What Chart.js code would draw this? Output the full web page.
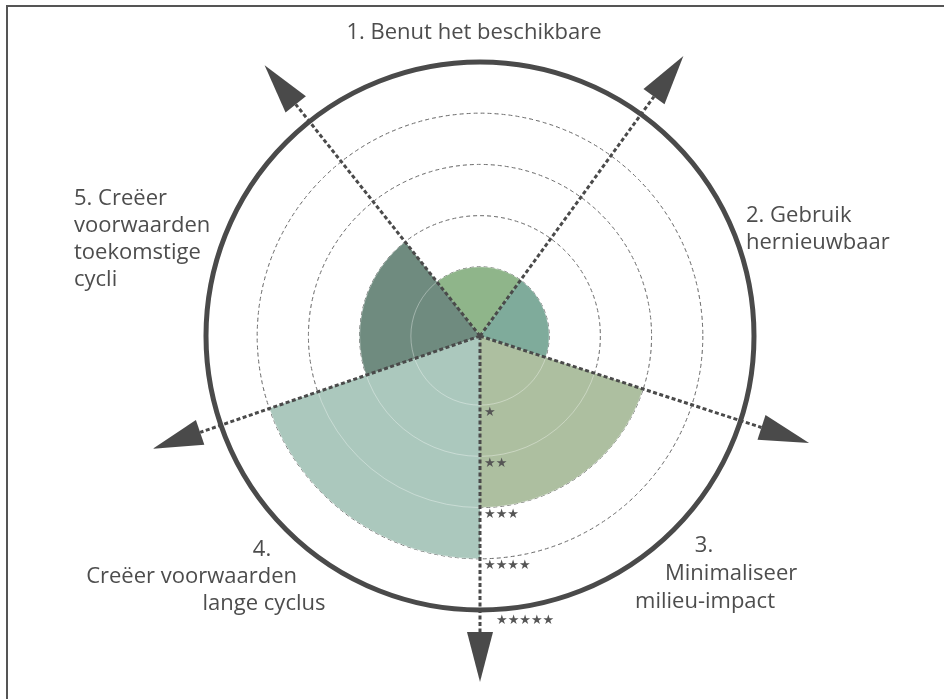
<!DOCTYPE html>
<html lang="nl">
<head>
<meta charset="UTF-8" />
<title>Circulaire strategieën</title>
<script src="https://cdn.jsdelivr.net/npm/chart.js"></script>
<style>
  html, body { margin: 0; padding: 0; overflow: hidden; background: #fff; }
  #frame { position: absolute; left: 6px; top: 5px; width: 1000px; height: 800px; border: 2px solid #555; }
  #chart { position: absolute; left: 0; top: 0; }
</style>
</head>
<body>
<div id="frame"></div>
<canvas id="chart" width="944" height="699"></canvas>
<script>
// categories (one entry per sector, split in lines as in the picture)
const categories = [
  ['1. Benut het beschikbare'],
  ['2. Gebruik', 'hernieuwbaar'],
  ['3.', 'Minimaliseer', 'milieu-impact'],
  ['4.', 'Creëer voorwaarden', 'lange cyclus'],
  ['5. Creëer', 'voorwaarden', 'toekomstige', 'cycli']
];
// score per sector (number of stars)
const scores = [1, 1, 3, 4, 2];
// width of each sector in degrees, as drawn in the picture
const sectorAngles = [74.5, 72, 72, 71, 70.5];
// rings and their labels
const levels = [1, 2, 3, 4, 5];
const levelLabels = ['★', '★★', '★★★', '★★★★', '★★★★★'];
const sectorColors = ['#8fb58a', '#7fab9b', '#adbfa0', '#abc8bd', '#6f8b7f'];

// text placement per line, relative to the centre of the chart
const labelPlacement = [
  [{ dx: -6, dy: -297, align: 'center' }],
  [{ dx: 266, dy: -114, align: 'left' }, { dx: 266, dy: -87, align: 'left' }],
  [{ dx: 224, dy: 216, align: 'center' }, { dx: 185, dy: 244, align: 'left' }, { dx: 225, dy: 272, align: 'center' }],
  [{ dx: -218, dy: 220, align: 'center' }, { dx: -183, dy: 247, align: 'right' }, { dx: -216, dy: 274, align: 'center' }],
  [{ dx: -406, dy: -131, align: 'left' }, { dx: -406, dy: -104, align: 'left' },
   { dx: -406, dy: -77, align: 'left' }, { dx: -406, dy: -50, align: 'left' }]
];

const ink = '#4a4a4a';

const decorations = {
  id: 'decorations',
  // faint light under-line for the inner rings, so they read through the fills
  afterDatasetsDraw(chart) {
    const s = chart.scales.r;
    const ctx = chart.ctx;
    ctx.save();
    ctx.strokeStyle = 'rgba(255,255,255,0.35)';
    ctx.lineWidth = 1;
    levels.slice(0, -1).forEach(v => {
      ctx.beginPath();
      ctx.arc(s.xCenter, s.yCenter, s.getDistanceFromCenterForValue(v), 0, Math.PI * 2);
      ctx.stroke();
    });
    ctx.restore();
  },
  afterDraw(chart) {
    const s = chart.scales.r;
    const ctx = chart.ctx;
    const cx = s.xCenter, cy = s.yCenter;
    const outer = s.getDistanceFromCenterForValue(levels[levels.length - 1]);
    const arcs = chart.getDatasetMeta(0).data;
    ctx.save();

    // axis lines with arrow heads on the sector borders
    arcs.forEach(arc => {
      const a = arc.startAngle;
      const ux = Math.cos(a), uy = Math.sin(a);
      const base = outer + 22, tip = outer + 72, half = 13;
      ctx.setLineDash([4, 2.5]);
      ctx.lineWidth = 3;
      ctx.strokeStyle = ink;
      ctx.beginPath();
      ctx.moveTo(cx, cy);
      ctx.lineTo(cx + ux * base, cy + uy * base);
      ctx.stroke();
      ctx.setLineDash([]);
      ctx.fillStyle = ink;
      ctx.beginPath();
      ctx.moveTo(cx + ux * tip, cy + uy * tip);
      ctx.lineTo(cx + ux * base - uy * half, cy + uy * base + ux * half);
      ctx.lineTo(cx + ux * base + uy * half, cy + uy * base - ux * half);
      ctx.closePath();
      ctx.fill();
    });

    // star labels below each ring
    ctx.font = '13px "DejaVu Sans"';
    ctx.fillStyle = '#555';
    ctx.textAlign = 'left';
    ctx.textBaseline = 'middle';
    levels.forEach((v, i) => {
      const r = s.getDistanceFromCenterForValue(v);
      const last = i === levels.length - 1;
      ctx.fillText(levelLabels[i], cx + (last ? 16 : 4), cy + r + (last ? 11 : 7));
    });

    // category texts
    ctx.font = '22px "Open Sans"';
    ctx.fillStyle = '#4d4d4d';
    ctx.textBaseline = 'alphabetic';
    categories.forEach((lines, i) => {
      lines.forEach((t, j) => {
        const p = labelPlacement[i][j];
        ctx.textAlign = p.align;
        ctx.fillText(t, cx + p.dx, cy + p.dy);
      });
    });
    ctx.restore();
  }
};

new Chart(document.getElementById('chart'), {
  type: 'polarArea',
  data: {
    labels: categories.map(l => l.join(' ')),
    datasets: [{
      data: scores,
      angle: sectorAngles,
      backgroundColor: sectorColors,
      borderWidth: 0
    }]
  },
  options: {
    responsive: false,
    animation: false,
    layout: { padding: { top: 62, bottom: 89, left: 16, right: 0 } },
    plugins: { legend: { display: false }, tooltip: { enabled: false } },
    scales: {
      r: {
        min: -0.35,
        max: 5,
        startAngle: -38.5,
        z: 1,
        ticks: { display: false },
        afterBuildTicks: sc => { sc.ticks = levels.map(v => ({ value: v })); },
        grid: {
          color: c => c.tick && c.tick.value === 5 ? ink : '#3c3c3c',
          lineWidth: c => c.tick && c.tick.value === 5 ? 5 : 1
        },
        border: { dash: c => c.tick && c.tick.value === 5 ? [] : [4, 3] }
      }
    }
  },
  plugins: [decorations]
});
</script>
</body>
</html>
